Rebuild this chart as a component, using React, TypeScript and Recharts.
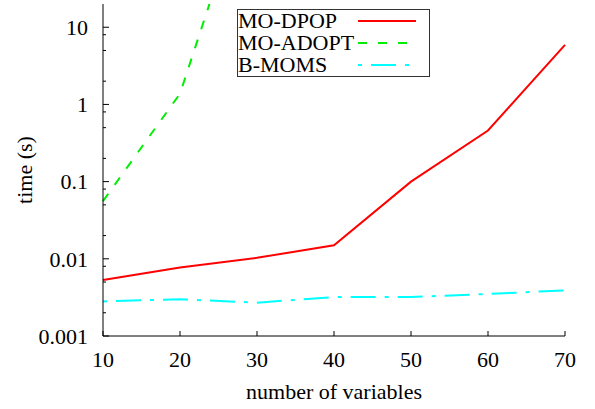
import { LineChart, Line, XAxis, YAxis, Legend } from 'recharts'

const FONT = "'Liberation Serif', 'Times New Roman', Times, serif"

// number of variables
const variables = [10, 20, 30, 40, 50, 60, 70]

// time (s) per algorithm
const moDpop = [0.0053, 0.0077, 0.0103, 0.015, 0.1, 0.46, 5.9]
const moAdopt = [0.056, 1.38, 1500, null, null, null, null]
const bMoms = [0.0028, 0.003, 0.0027, 0.0032, 0.0032, 0.0035, 0.0039]

const xTicks = [10, 20, 30, 40, 50, 60, 70]
const yMajorTicks = [0.001, 0.01, 0.1, 1, 10]
const yMinorTicks = [0.002, 0.005, 0.008, 0.02, 0.05, 0.08, 0.2, 0.5, 0.8, 2, 5, 8]
const yTicks = [...yMajorTicks, ...yMinorTicks].sort((a, b) => a - b)

const series = [
  { key: 'moDpop', name: 'MO-DPOP', color: '#ff0000', dash: undefined },
  { key: 'moAdopt', name: 'MO-ADOPT', color: '#00ee00', dash: '9 11' },
  { key: 'bMoms', name: 'B-MOMS', color: '#00ffff', dash: '4 9 25 9' },
]

const data = variables.map((v, i) => ({
  v,
  moDpop: moDpop[i],
  moAdopt: moAdopt[i],
  bMoms: bMoms[i],
}))

const textProps = { fontFamily: FONT, fontSize: 22, fill: '#000' }

function LeftTick({ x, y, payload }: any) {
  const major = yMajorTicks.includes(payload.value)
  return (
    <g>
      <line x1={x} x2={x + (major ? 6 : 3)} y1={y} y2={y} stroke="#000" />
      {major && (
        <text x={x - 15} y={y} dy="0.35em" textAnchor="end" {...textProps}>
          {String(payload.value)}
        </text>
      )}
    </g>
  )
}

function RightTick({ x, y, payload }: any) {
  const major = yMajorTicks.includes(payload.value)
  return <line x1={x} x2={x - (major ? 6 : 3)} y1={y} y2={y} stroke="#000" />
}

function BottomTick({ x, y, payload }: any) {
  return (
    <g>
      <line x1={x} x2={x} y1={y} y2={y - 5} stroke="#000" />
      <text x={x} y={y + 31} textAnchor="middle" {...textProps}>
        {payload.value}
      </text>
    </g>
  )
}

function renderLegend() {
  return (
    <svg width={194} height={69} style={{ display: 'block' }}>
      <rect x={0.5} y={0.5} width={192} height={67} fill="#fff" stroke="#333" />
      {series.map((s, i) => (
        <g key={s.key}>
          <text x={1} y={19 + i * 22} {...textProps}>
            {s.name}
          </text>
          <line
            x1={121}
            x2={179}
            y1={12 + i * 22}
            y2={12 + i * 22}
            stroke={s.color}
            strokeWidth={2}
            strokeDasharray={s.dash}
          />
        </g>
      ))}
    </svg>
  )
}

export default function App() {
  return (
    <div style={{ position: 'absolute', left: 0, top: 0, background: '#fff', fontFamily: FONT }}>
      <LineChart width={595} height={409} data={data} margin={{ top: 4, right: 30, left: 0, bottom: 0 }}>
        <XAxis
          dataKey="v"
          type="number"
          domain={[10, 70]}
          ticks={xTicks}
          interval={0}
          height={73}
          tickSize={0}
          tickMargin={0}
          tickLine={false}
          tick={BottomTick}
          axisLine={{ stroke: '#000' }}
          label={{
            content: ({ viewBox }: any) => (
              <text x={viewBox.x + viewBox.width / 2} y={viewBox.y + 63} textAnchor="middle" {...textProps}>
                number of variables
              </text>
            ),
          }}
        />
        <XAxis
          xAxisId="top"
          orientation="top"
          type="number"
          domain={[10, 70]}
          height={0}
          tick={false}
          tickLine={false}
          axisLine={{ stroke: '#000' }}
        />
        <YAxis
          scale="log"
          domain={[0.001, 20]}
          allowDataOverflow
          ticks={yTicks}
          interval={0}
          width={103}
          tickSize={0}
          tickMargin={0}
          tickLine={false}
          tick={LeftTick}
          axisLine={{ stroke: '#000' }}
          label={{
            content: ({ viewBox }: any) => {
              const cx = 32
              const cy = viewBox.y + viewBox.height / 2
              return (
                <text x={cx} y={cy} textAnchor="middle" transform={`rotate(-90, ${cx}, ${cy})`} {...textProps}>
                  time (s)
                </text>
              )
            },
          }}
        />
        <YAxis
          yAxisId="right"
          orientation="right"
          scale="log"
          domain={[0.001, 20]}
          allowDataOverflow
          ticks={yTicks}
          interval={0}
          width={0}
          tickSize={0}
          tickMargin={0}
          tickLine={false}
          tick={RightTick}
          axisLine={{ stroke: '#000' }}
        />
        <Legend
          layout="vertical"
          align="center"
          verticalAlign="middle"
          content={renderLegend}
          wrapperStyle={{ left: 237, top: 9, width: 194, height: 69 }}
        />
        {series.map((s) => (
          <Line
            key={s.key}
            dataKey={s.key}
            name={s.name}
            type="linear"
            stroke={s.color}
            strokeWidth={2}
            strokeDasharray={s.dash}
            dot={false}
            activeDot={false}
            connectNulls={false}
            isAnimationActive={false}
          />
        ))}
      </LineChart>
    </div>
  )
}
